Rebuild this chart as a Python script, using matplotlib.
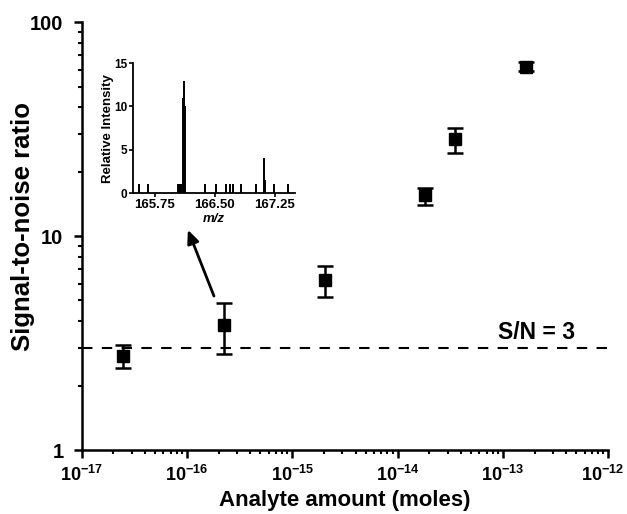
import matplotlib.pyplot as plt
import matplotlib.transforms as mtransforms
import numpy as np

plt.rcParams['font.family'] = ['Liberation Sans', 'DejaVu Sans']
plt.rcParams['font.weight'] = 'bold'
plt.rcParams['mathtext.fontset'] = 'custom'
plt.rcParams['mathtext.rm'] = 'Liberation Sans:bold'
plt.rcParams['mathtext.bf'] = 'Liberation Sans:bold'
plt.rcParams['mathtext.it'] = 'Liberation Sans:bold:italic'
plt.rcParams['mathtext.default'] = 'bf'

# main data: analyte amount (moles) vs S/N
amount = [2.5e-17, 2.25e-16, 2.05e-15, 1.82e-14, 3.5e-14, 1.66e-13]
sn = [2.75, 3.85, 6.2, 15.5, 28.5, 62.0]
sn_low = [2.42, 2.8, 5.2, 14.0, 24.5, 59.0]
sn_high = [3.1, 4.85, 7.25, 16.8, 32.0, 65.0]
threshold = 3
x_ticks = [1e-17, 1e-16, 1e-15, 1e-14, 1e-13, 1e-12]
x_ticklabels = [r'$10^{-17}$', r'$10^{-16}$', r'$10^{-15}$',
                r'$10^{-14}$', r'$10^{-13}$', r'$10^{-12}$']

# inset spectrum: m/z vs relative intensity
mz = [165.554, 165.666, 166.035, 166.05, 166.065, 166.08, 166.104, 166.116, 166.129,
      166.371, 166.51, 166.646, 166.688, 166.729, 166.834, 167.013, 167.116, 167.13,
      167.238, 167.416]
intensity = [1, 1, 1, 1, 1, 1, 11, 13, 10, 1, 1, 1, 1, 1, 1, 1, 4, 1.5, 1, 1]

fig = plt.figure(figsize=(6.27, 5.14), dpi=100)
ax = fig.add_axes([0.13, 0.1245, 0.84, 0.8325])

yerr = [np.array(sn) - np.array(sn_low), np.array(sn_high) - np.array(sn)]
ax.errorbar(amount, sn, yerr=yerr, fmt='s', color='black', markersize=8,
            capsize=6, elinewidth=1.8, capthick=1.8)
ax.axhline(threshold, color='black', linestyle=(0, (5, 4.5)), linewidth=1.5)

ax.set_xscale('log')
ax.set_yscale('log')
ax.set_xlim(1e-17, 1e-12)
ax.set_ylim(1, 100)
ax.set_xticks(x_ticks)
ax.set_xticklabels(x_ticklabels)
ax.set_yticks([1, 10, 100])
ax.set_yticklabels(['1', '10', '100'])
for s in ['top', 'right']:
    ax.spines[s].set_visible(False)
for s in ['left', 'bottom']:
    ax.spines[s].set_linewidth(1.8)
ax.tick_params(which='major', direction='out', length=6, width=1.8)
ax.tick_params(which='minor', direction='out', length=3, width=1.5)
ax.tick_params(axis='y', labelsize=14.5, pad=7)
ax.tick_params(axis='x', labelsize=13, pad=5)
# nudge the last x label so it stays inside the canvas
last = ax.get_xticklabels()[-1]
last.set_transform(last.get_transform() +
                   mtransforms.ScaledTranslation(-4 / 72, 0, fig.dpi_scale_trans))
ax.set_xlabel('Analyte amount (moles)', fontsize=16, fontweight='bold', labelpad=3)
ax.set_ylabel('Signal-to-noise ratio', fontsize=18.5, fontweight='bold')
ax.yaxis.set_label_coords(-0.089, 0.523)
ax.text(9.0e-14, 3.3, 'S/N = 3', fontsize=16.5, fontweight='bold')

ax.annotate('', xy=(1.0e-16, 11.0), xytext=(1.85e-16, 5.1),
            arrowprops=dict(arrowstyle='-|>,head_length=0.8,head_width=0.35',
                            color='black', lw=2))

ins = fig.add_axes([0.212, 0.6245, 0.258, 0.2525])
ins.vlines(mz, 0, intensity, color='black', linewidth=1.4)
ins.set_xlim(165.475, 167.5)
ins.set_ylim(0, 15)
ins.set_xticks([165.75, 166.50, 167.25])
ins.set_xticklabels(['165.75', '166.50', '167.25'])
ins.set_yticks([0, 5, 10, 15])
for s in ['top', 'right']:
    ins.spines[s].set_visible(False)
for s in ['left', 'bottom']:
    ins.spines[s].set_linewidth(1.3)
ins.tick_params(direction='out', length=3, width=1.2, pad=1.5)
ins.tick_params(axis='x', labelsize=9.5)
ins.tick_params(axis='y', labelsize=8.5, pad=1)
ins.set_xlabel('m/z', fontsize=9.5, fontweight='bold', style='italic', labelpad=1)
ins.set_ylabel('Relative Intensity', fontsize=9.5, fontweight='bold')
ins.yaxis.set_label_coords(-0.115, 0.5)

fig.savefig('out.png', dpi=100)
